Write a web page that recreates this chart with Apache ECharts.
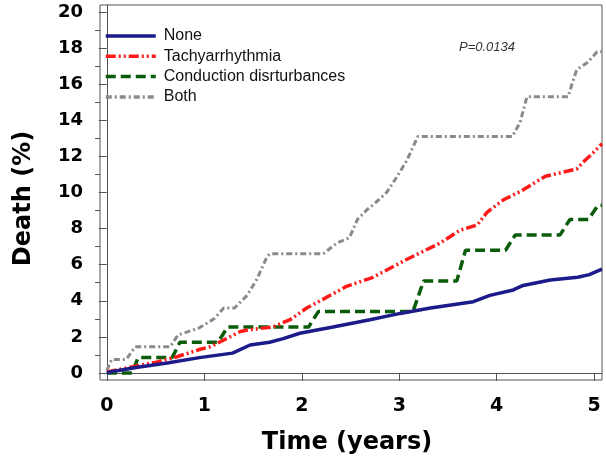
<!DOCTYPE html>
<html>
<head>
<meta charset="utf-8">
<script src="https://cdn.jsdelivr.net/npm/echarts@6/dist/echarts.min.js"></script>
<style>html,body{margin:0;padding:0;background:#fff}#c{width:606px;height:466px}</style>
</head>
<body>
<div id="c"></div>
<script>
// Data (time in years, death in %)
const seriesNames = ['None', 'Tachyarrhythmia', 'Conduction disrturbances', 'Both'];

const noneT = [0, 0.03, 0.3, 0.62, 0.95, 1.29, 1.47, 1.67, 1.81, 1.98, 2.32, 2.7, 3.01, 3.32, 3.76, 3.93, 4.17, 4.27, 4.55, 4.83, 4.95, 5.08];
const noneV = [0, 0.05, 0.3, 0.55, 0.85, 1.1, 1.55, 1.7, 1.9, 2.2, 2.55, 2.95, 3.3, 3.6, 3.95, 4.3, 4.6, 4.85, 5.15, 5.3, 5.45, 5.75];

const tachyT = [0, 0.27, 0.51, 0.72, 0.95, 1.06, 1.19, 1.37, 1.47, 1.7, 1.88, 2.05, 2.19, 2.46, 2.73, 3.08, 3.42, 3.62, 3.8, 3.9, 4.07, 4.24, 4.5, 4.82, 4.89, 4.99, 5.08];
const tachyV = [0.05, 0.35, 0.6, 0.9, 1.3, 1.45, 1.8, 2.3, 2.4, 2.55, 2.95, 3.6, 4.0, 4.8, 5.3, 6.3, 7.2, 7.9, 8.2, 8.9, 9.6, 10.05, 10.9, 11.3, 11.7, 12.2, 12.7];

const condT = [0, 0.26, 0.32, 0.67, 0.75, 1.14, 1.24, 2.07, 2.17, 3.14, 3.25, 3.59, 3.68, 4.09, 4.19, 4.65, 4.75, 4.94, 5.04, 5.08];
const condV = [0, 0, 0.85, 0.85, 1.7, 1.7, 2.55, 2.55, 3.4, 3.4, 5.1, 5.1, 6.8, 6.8, 7.65, 7.65, 8.5, 8.5, 9.3, 9.3];

const bothT = [0, 0.05, 0.2, 0.29, 0.65, 0.73, 0.95, 1.1, 1.2, 1.31, 1.44, 1.54, 1.64, 1.67, 2.22, 2.36, 2.49, 2.57, 2.67, 2.75, 2.87, 2.98, 3.08, 3.19, 4.16, 4.24, 4.31, 4.73, 4.82, 4.93, 5.03, 5.08];
const bothV = [0.15, 0.75, 0.75, 1.45, 1.45, 2.1, 2.5, 3.0, 3.6, 3.6, 4.3, 5.2, 6.4, 6.6, 6.6, 7.2, 7.5, 8.5, 9.05, 9.4, 10.0, 10.9, 11.8, 13.1, 13.1, 13.9, 15.3, 15.3, 16.8, 17.2, 17.8, 17.8];

const xTicks = [0, 1, 2, 3, 4, 5];
const yTicks = [0, 2, 4, 6, 8, 10, 12, 14, 16, 18, 20];
const yMinorTicks = [1, 3, 5, 7, 9, 11, 13, 15, 17, 19];
const pText = 'P=0.0134';

const zip = (t, v) => t.map((x, i) => [x, v[i]]);

const chart = echarts.init(document.getElementById('c'), null, {renderer: 'canvas'});
const font = 'DejaVu Sans';
chart.setOption({
  animation: false,
  backgroundColor: '#fff',
  grid: {left: 100, right: 4, top: 5, bottom: 86, show: true, borderColor: '#555', borderWidth: 1, backgroundColor: 'transparent'},
  legend: {
    left: 104, top: 28, padding: 0, orient: 'vertical', itemWidth: 50, itemHeight: 14, itemGap: 4.3,
    itemStyle: {opacity: 0},
    lineStyle: {width: 3.5},
    textStyle: {fontFamily: 'Liberation Sans', fontSize: 16, lineHeight: 14, color: '#111', padding: [0, 0, 0, 3]},
    data: seriesNames
  },
  xAxis: {
    type: 'value', min: -0.07, max: 5.08,
    name: 'Time (years)', nameLocation: 'middle', nameGap: 51,
    nameTextStyle: {fontFamily: font, fontWeight: 'bold', fontSize: 24, color: '#000', padding: [0, 8, 0, 0]},
    axisLine: {show: true, lineStyle: {color: '#555', width: 1}},
    axisTick: {show: true, length: 8, lineStyle: {color: '#555'}, customValues: xTicks},
    axisLabel: {customValues: xTicks, margin: 17, fontFamily: font, fontWeight: 'bold', fontSize: 19, color: '#000'},
    splitLine: {show: false}
  },
  yAxis: [{
    type: 'value', min: -0.39, max: 20.39,
    name: 'Death (%)', nameLocation: 'middle', nameGap: 64, nameRotate: 90,
    nameTextStyle: {fontFamily: font, fontWeight: 'bold', fontSize: 24, color: '#000', padding: [0, 12, 0, 0]},
    axisLine: {show: true, lineStyle: {color: '#555', width: 1}},
    axisTick: {show: true, length: 8, lineStyle: {color: '#555'}, customValues: yTicks},
    axisLabel: {customValues: yTicks, margin: 17, fontFamily: font, fontWeight: 'bold', fontSize: 18, color: '#000'},
    splitLine: {show: false}
  }, {
    type: 'value', min: -0.39, max: 20.39, position: 'left',
    axisLine: {show: false},
    axisTick: {show: true, length: 5, lineStyle: {color: '#555'}, customValues: yMinorTicks},
    axisLabel: {show: false},
    splitLine: {show: false}
  }],
  graphic: [{
    type: 'text', left: 459, top: 41,
    style: {text: pText, font: 'italic 13px "Liberation Sans"', fill: '#333'}
  }],
  series: [
    {name: seriesNames[0], type: 'line', data: zip(noneT, noneV), symbol: 'none', z: 5,
     lineStyle: {color: '#1b1b8a', width: 3.5, type: 'solid'}, itemStyle: {color: '#1b1b8a'}},
    {name: seriesNames[1], type: 'line', data: zip(tachyT, tachyV), symbol: 'none', z: 4,
     lineStyle: {color: '#ff1a1a', width: 3.5, type: [10, 3, 2, 3, 2, 3]}, itemStyle: {color: '#ff1a1a'}},
    {name: seriesNames[2], type: 'line', data: zip(condT, condV), symbol: 'none', z: 3,
     lineStyle: {color: '#0a5c0a', width: 3.5, type: [10, 5]}, itemStyle: {color: '#0a5c0a'}},
    {name: seriesNames[3], type: 'line', data: zip(bothT, bothV), symbol: 'none', z: 2,
     lineStyle: {color: '#8a8a8a', width: 3, type: [6, 3, 2, 3]}, itemStyle: {color: '#8a8a8a'}}
  ]
});
</script>
</body>
</html>
